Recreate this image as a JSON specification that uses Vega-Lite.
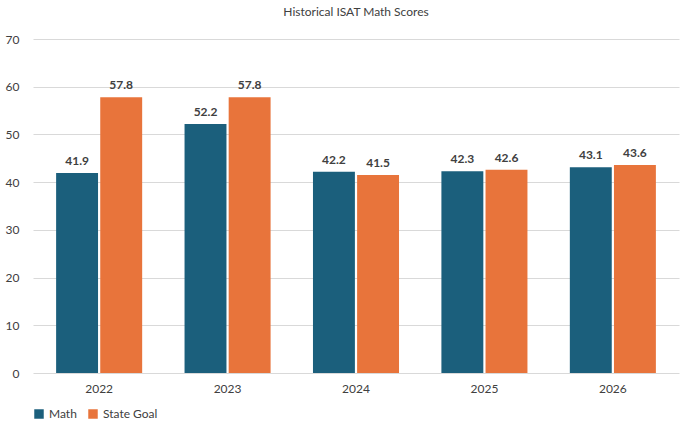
{
  "$schema": "https://vega.github.io/schema/vega-lite/v6.json",
  "width": 687,
  "height": 426,
  "autosize": {"type": "fit", "contains": "padding"},
  "padding": {"left": 5, "right": 8, "top": 6, "bottom": 6},
  "title": {"text": "Historical ISAT Math Scores", "fontSize": 12, "font": "Lato", "fontWeight": "normal", "color": "#404040", "offset": 14},
  "data": {
    "values": [
      {"year": "2022", "series": "Math", "score": 41.9},
      {"year": "2022", "series": "State Goal", "score": 57.8},
      {"year": "2023", "series": "Math", "score": 52.2},
      {"year": "2023", "series": "State Goal", "score": 57.8},
      {"year": "2024", "series": "Math", "score": 42.2},
      {"year": "2024", "series": "State Goal", "score": 41.5},
      {"year": "2025", "series": "Math", "score": 42.3},
      {"year": "2025", "series": "State Goal", "score": 42.6},
      {"year": "2026", "series": "Math", "score": 43.1},
      {"year": "2026", "series": "State Goal", "score": 43.6}
    ]
  },
  "config": {
    "view": {"stroke": null},
    "font": "Lato",
    "axis": {"labelFont": "Lato", "labelFontSize": 12, "labelColor": "#404040", "domain": false, "ticks": false}
  },
  "encoding": {
    "x": {"field": "year", "type": "nominal", "title": null,
          "scale": {"paddingInner": 0.33, "paddingOuter": 0.18},
          "axis": {"labelAngle": 0, "labelPadding": 10}},
    "xOffset": {"field": "series", "type": "nominal", "scale": {"paddingInner": 0.05}},
    "y": {"field": "score", "type": "quantitative", "title": null,
          "scale": {"domain": [0, 70]},
          "axis": {"values": [0, 10, 20, 30, 40, 50, 60, 70], "gridColor": "#d9d9d9", "labelPadding": 14}}
  },
  "layer": [
    {
      "mark": {"type": "bar"},
      "encoding": {
        "color": {"field": "series", "type": "nominal",
                  "scale": {"domain": ["Math", "State Goal"], "range": ["#1b5f7c", "#e8743b"]},
                  "legend": {"orient": "bottom", "title": null, "symbolType": "square", "labelFontSize": 12, "labelColor": "#404040", "symbolSize": 90, "offset": 14}}
      }
    },
    {
      "mark": {"type": "text", "dy": -12, "fontWeight": "bold", "fontSize": 12, "color": "#404040"},
      "encoding": {"text": {"field": "score", "type": "quantitative", "format": ".1f"}}
    }
  ]
}
